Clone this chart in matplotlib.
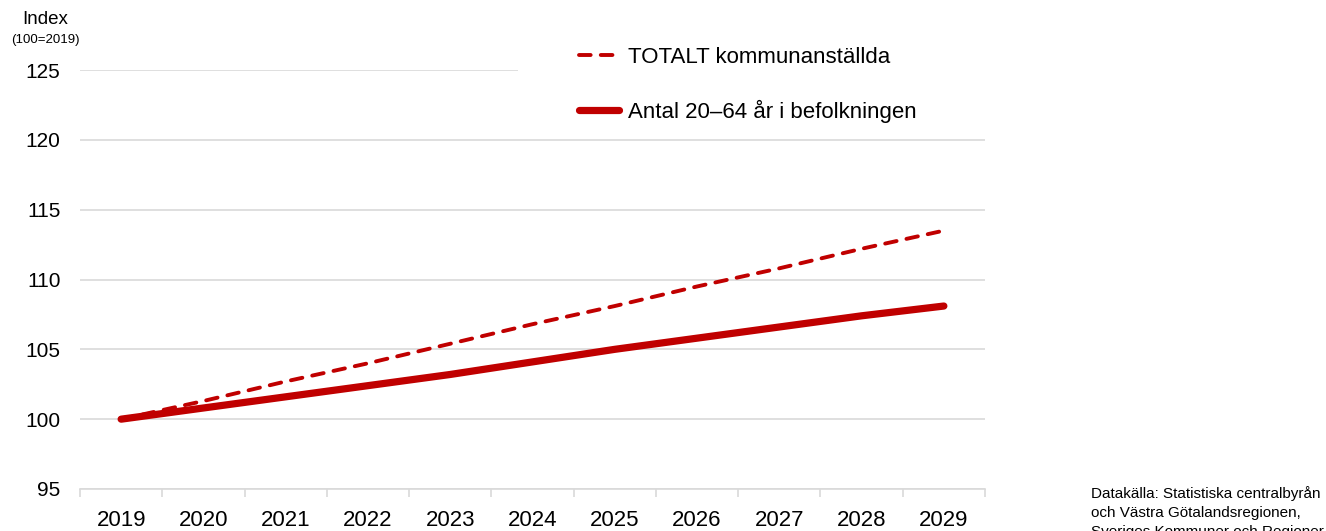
import numpy as np
import matplotlib.pyplot as plt
from matplotlib.patches import Rectangle

# data
years = ["2019", "2020", "2021", "2022", "2023", "2024", "2025", "2026", "2027", "2028", "2029"]
totalt = [100.0, 101.3, 102.7, 104.0, 105.4, 106.8, 108.1, 109.5, 110.8, 112.2, 113.5]
befolkning = [100.0, 100.8, 101.6, 102.4, 103.2, 104.1, 105.0, 105.8, 106.6, 107.4, 108.1]
yticks = [95, 100, 105, 110, 115, 120, 125]

RED = "#C00000"
GRID = "#D9D9D9"

plt.rcParams['font.family'] = ['Liberation Sans', 'DejaVu Sans']

fig = plt.figure(figsize=(13.26, 5.31), dpi=100)
ax = fig.add_axes([80 / 1326, 1 - 489 / 531, 905 / 1326, 419 / 531])

x = np.arange(len(years))
ax.plot(x, totalt, color=RED, lw=2.8, dashes=(3, 2.6), dash_capstyle='round',
        label="TOTALT kommunanställda", zorder=3)
ax.plot(x, befolkning, color=RED, lw=5.2, solid_capstyle='round',
        label="Antal 20\u201364 år i befolkningen", zorder=4)

ax.set_xlim(-0.5, len(years) - 0.5)
ax.set_ylim(95, 125)
ax.set_yticks(yticks)
ax.set_yticklabels([str(v) for v in yticks], fontsize=15)
ax.set_xticks(x)
ax.set_xticklabels(years, fontsize=16)
ax.set_xticks(np.arange(-0.5, len(years)), minor=True)
ax.tick_params(axis='x', which='major', length=0, pad=15)
ax.tick_params(axis='x', which='minor', length=6, color=GRID, width=1.2)
ax.tick_params(axis='y', length=0, pad=14)
ax.yaxis.grid(True, color=GRID, lw=1.2)
ax.set_axisbelow(True)
for s in ['top', 'right', 'left']:
    ax.spines[s].set_visible(False)
ax.spines['bottom'].set_color(GRID)
ax.spines['bottom'].set_linewidth(1.2)

# white box behind the legend (hides part of the top gridline)
ax.add_patch(Rectangle(((518 - 80) / 905, 1 - 40 / 419), 1.2, 80 / 419,
                       transform=ax.transAxes, facecolor='white', edgecolor='none',
                       clip_on=False, zorder=2))

leg = ax.legend(loc='upper left', bbox_to_anchor=(568 / 1326, 1 - 36 / 531),
                bbox_transform=fig.transFigure, frameon=False, fontsize=16,
                handlelength=1.8, handletextpad=0.4, labelspacing=1.42, borderpad=0)

fig.text(45 / 1326, 1 - 20 / 531, "Index", ha='center', va='center', fontsize=13.5)
fig.text(45 / 1326, 1 - 40 / 531, "(100=2019)", ha='center', va='center', fontsize=9.5)

fig.text(1091 / 1326, 1 - 486 / 531,
         "Datakälla: Statistiska centralbyrån\noch Västra Götalandsregionen,\nSveriges Kommuner och Regioner.",
         ha='left', va='top', fontsize=11, linespacing=1.45)

fig.savefig("out.png", dpi=100, facecolor='white')
